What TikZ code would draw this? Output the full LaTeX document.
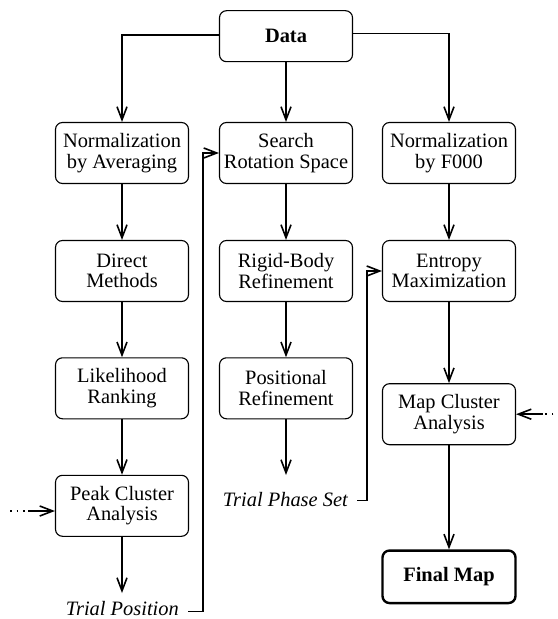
\documentclass[tikz,border=0pt]{standalone}
\usepackage{fontspec}
\setmainfont{Liberation Serif}
\usetikzlibrary{arrows.meta}
\begin{document}
\begin{tikzpicture}[x=1bp,y=-1bp,
  box/.style={draw, rounded corners=7bp, line width=1.1bp, minimum width=133bp,
    minimum height=61bp, align=center, inner sep=0pt,
    font=\fontsize{20.5}{20.7}\selectfont},
  conn/.style={line width=1.8bp, -{Straight Barb[length=13bp,width=10bp,line width=1.6bp]}},
  plain/.style={line width=1.8bp},
  dotline/.style={line width=1.6bp, dash pattern=on 1.6bp off 5bp},
  trial/.style={anchor=base east, inner sep=0pt, font=\fontsize{20.5}{20.7}\selectfont\itshape},
  ]
\useasboundingbox (0,0) rectangle (558,619);

\node[box, minimum height=51bp, font=\fontsize{20.5}{20.7}\selectfont\bfseries] (data) at (286,36.2) {Data};

\node[box] (na) at (122,153) {Normalization\\by Averaging};
\node[box] (sr) at (286,153) {Search\\Rotation Space};
\node[box] (nf) at (449,153) {Normalization\\by F000};

\node[box] (dm) at (122,271) {Direct\\Methods};
\node[box] (rb) at (286,271) {Rigid-Body\\Refinement};
\node[box] (em) at (449,271) {Entropy\\Maximization};

\node[box] (lr) at (122,388.3) {Likelihood\\Ranking};
\node[box] (pr) at (286,388.3) {Positional\\Refinement};
\node[box] (mc) at (449,414.2) {Map Cluster\\Analysis};

\node[box] (pc) at (122,505.8) {Peak Cluster\\Analysis};
\node[box, minimum height=52.5bp, line width=2.4bp, font=\fontsize{20.5}{20.7}\selectfont\bfseries] (fm) at (449,576.8) {Final Map};

\node[trial] (tpos) at (179,615.5) {Trial Position};
\node[trial] (tphs) at (348,506) {Trial Phase Set};

% top split
\draw[conn] ([yshift=1.2bp]data.west) -| (na.north);
\draw[conn] ([yshift=2.7bp]data.east) -| (nf.north);
\draw[conn] (data.south) -- (sr.north);

% left column
\draw[conn] (na) -- (dm);
\draw[conn] (dm) -- (lr);
\draw[conn] (lr) -- (pc);
\coordinate (tpend) at (122,593);
\draw[conn] (pc.south) -- (tpend);

% middle column
\draw[conn] (sr) -- (rb);
\draw[conn] (rb) -- (pr);
\coordinate (prend) at (286,475);
\draw[conn] (pr.south) -- (prend);

% right column
\draw[conn] (nf) -- (em);
\draw[conn] (em) -- (mc);
\draw[conn] (mc) -- (fm);

% feedback lines
\coordinate (tpa) at (188,611.5);
\draw[conn] (tpa) -- ++(15,0) |- (sr.west);
\coordinate (tsa) at (357,500.5);
\draw[conn] (tsa) -- ++(9.7,0) |- (em.west);

% external inputs
\coordinate (lin) at (10,511);
\coordinate (lsolid) at (28,511);
\draw[dotline] (lin) -- (lsolid);
\draw[conn] (lsolid) -- (pc.west |- lsolid);

\coordinate (rin) at (560,414.2);
\coordinate (rsolid) at (543,414.2);
\draw[dotline] (rin) -- (rsolid);
\draw[conn] (rsolid) -- (mc.east);
\end{tikzpicture}
\end{document}
